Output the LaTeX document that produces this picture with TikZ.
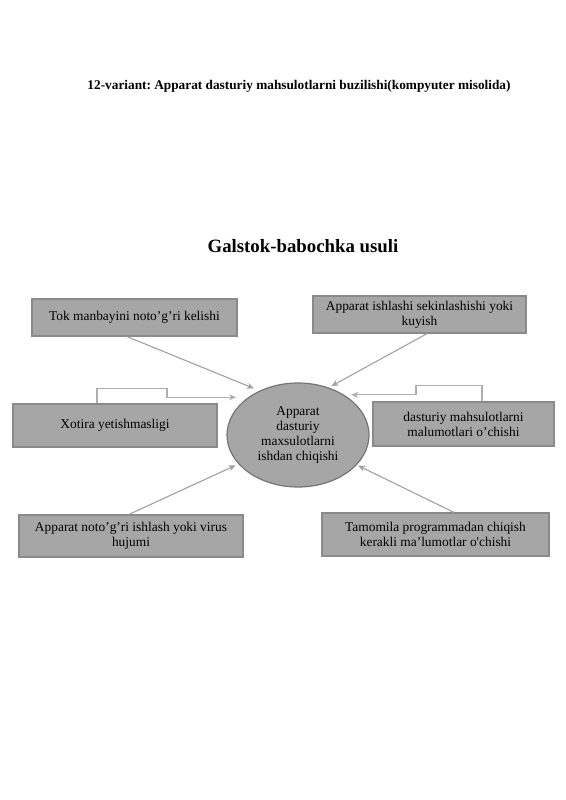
\documentclass[tikz,border=0pt]{standalone}
\usepackage{fontspec}
\setmainfont{Liberation Serif}
\usetikzlibrary{arrows.meta}
\usetikzlibrary{calc}
\usetikzlibrary{shapes.geometric}
\frenchspacing

\definecolor{boxfill}{HTML}{A6A6A6}
\definecolor{boxline}{HTML}{8A8A8A}
\definecolor{arrline}{HTML}{A0A0A0}

\begin{document}
\begin{tikzpicture}[x=1pt, y=-1pt,
    causebox/.style={draw=boxline, line width=1.2pt, fill=boxfill, inner sep=0pt,
      align=center, font=\fontsize{13.4}{15}\selectfont},
    arr/.style={draw=arrline, line width=1.1pt, -{Stealth[length=7pt,width=6pt]}},
    elb/.style={draw=arrline!85, line width=1.1pt, -{Stealth[length=7pt,width=6pt]}}]
        \useasboundingbox (0,0) rectangle (565,800);

        \node[font=\fontsize{13.3}{15}\selectfont\bfseries] (title) at (299,86)
          {12-variant: Apparat dasturiy mahsulotlarni buzilishi(kompyuter misolida)};
        \node[font=\fontsize{18.8}{21}\selectfont\bfseries] (method) at (303,246)
          {Galstok-babochka usuli};

        \node[ellipse, draw=boxline!85!black, line width=1.2pt, fill=boxfill,
          minimum width=142pt, minimum height=104pt, inner sep=0pt, align=center,
          font=\fontsize{13.4}{15}\selectfont] (core) at (298,435)
          {Apparat\\dasturiy\\maxsulotlarni\\ishdan chiqishi};

        \node[causebox, minimum width=205pt, minimum height=37pt] (tok) at (134.5,317.5)
          {Tok manbayini noto’g’ri kelishi};
        \node[causebox, minimum width=213pt, minimum height=37pt] (sekin) at (419.5,314.5)
          {Apparat ishlashi sekinlashishi yoki\\kuyish};
        \node[causebox, minimum width=204pt, minimum height=43pt] (xotira) at (115,425.5)
          {Xotira yetishmasligi};
        \node[causebox, minimum width=181pt, minimum height=44pt] (malumot) at (463.5,424)
          {dasturiy mahsulotlarni\\malumotlari o’chishi};
        \node[causebox, minimum width=224pt, minimum height=42pt] (virus) at (131,536)
          {Apparat noto’g’ri ishlash yoki virus\\hujumi};
        \node[causebox, minimum width=227pt, minimum height=43pt] (chiqish) at (435.5,534.5)
          {Tamomila programmadan chiqish\\kerakli ma’lumotlar o\textquotesingle chishi};

        \draw[arr, shorten >=6pt] ([xshift=-7.5pt]tok.south) -- (core.131);
        \draw[arr, shorten >=3pt] ([xshift=7.5pt]sekin.south) -- (core.57);
        \draw[elb, shorten >=12pt] ([xshift=-18pt]xotira.north) |- ++(70,-15) |- (core.143);
        \draw[elb, shorten >=7pt] ([xshift=18.5pt]malumot.north) |- ++(-66,-16) |- (core.41);
        \draw[arr, shorten >=3pt] ([xshift=-2pt]virus.north) -- (core.206);
        \draw[arr, shorten >=1.5pt] ([xshift=18.5pt]chiqish.north) -- (core.333);
      \end{tikzpicture}
\end{document}
